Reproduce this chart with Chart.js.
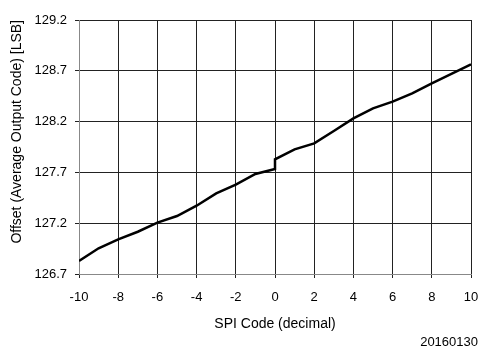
<!DOCTYPE html>
<html>
<head>
<meta charset="utf-8">
<script src="https://cdn.jsdelivr.net/npm/chart.js@4"></script>
<style>
  body { margin: 0; background: #fff; }
  #box { position: relative; width: 482px; height: 353px; }
  #nota { position: absolute; right: 4px; top: 334px; font: 13px "Liberation Sans", Arial, sans-serif; color: #000; }
</style>
</head>
<body>
<div id="box">
  <canvas id="grafico" width="482" height="353"></canvas>
  <div id="nota">20160130</div>
</div>
<script>
// valores (x = 0 aparece duas vezes por causa do salto)
const codigos = [-10, -9, -8, -7, -6, -5, -4, -3, -2, -1, 0, 0, 1, 2, 3, 4, 5, 6, 7, 8, 9, 10];
const offsets = [126.828, 126.953, 127.041, 127.116, 127.205, 127.271, 127.372, 127.494, 127.579, 127.684, 127.733,
                 127.829, 127.927, 127.986, 128.107, 128.232, 128.331, 128.396, 128.478, 128.577, 128.669, 128.764];
const ticksX = [-10, -8, -6, -4, -2, 0, 2, 4, 6, 8, 10];
const ticksY = [126.7, 127.2, 127.7, 128.2, 128.7, 129.2];

const pontos = codigos.map((c, i) => ({ x: c, y: offsets[i] }));
const fonte = { family: '"Liberation Sans", Arial, sans-serif', size: 13 };

const ctx = document.getElementById('grafico').getContext('2d');
const myChart = new Chart(ctx, {
    type: 'line',
    data: {
        datasets: [{
            data: pontos,
            borderColor: '#000',
            borderWidth: 2.5,
            pointRadius: 0,
            tension: 0,
            fill: false
        }]
    },
    options: {
        responsive: false,
        animation: false,
        layout: { padding: { top: 20, right: 11, left: 9, bottom: 20 } },
        plugins: { legend: { display: false }, tooltip: { enabled: false } },
        scales: {
            x: {
                type: 'linear',
                min: -10,
                max: 10,
                afterBuildTicks: s => { s.ticks = ticksX.map(v => ({ value: v })); },
                afterFit: s => { s.height = 59; s.paddingRight = 0; },
                ticks: { color: '#000', font: fonte, padding: 12, maxRotation: 0 },
                grid: { color: '#222', lineWidth: 1, tickLength: 4, tickColor: '#222' },
                border: { color: '#888', width: 1 },
                title: { display: true, text: 'SPI Code (decimal)', color: '#000', font: { family: fonte.family, size: 14 }, padding: { top: 2, bottom: 0 } }
            },
            y: {
                min: 126.7,
                max: 129.2,
                afterBuildTicks: s => { s.ticks = ticksY.map(v => ({ value: v })); },
                afterFit: s => { s.width = 70; },
                ticks: { color: '#000', font: fonte, padding: 8, callback: v => v.toFixed(1) },
                grid: { color: '#222', lineWidth: 1, tickLength: 4, tickColor: '#222' },
                border: { color: '#888', width: 1 },
                title: { display: true, align: 'end', text: 'Offset (Average Output Code) [LSB]', color: '#000', font: { family: fonte.family, size: 14 }, padding: { top: 0, bottom: 0 } }
            }
        }
    }
});
</script>
</body>
</html>
